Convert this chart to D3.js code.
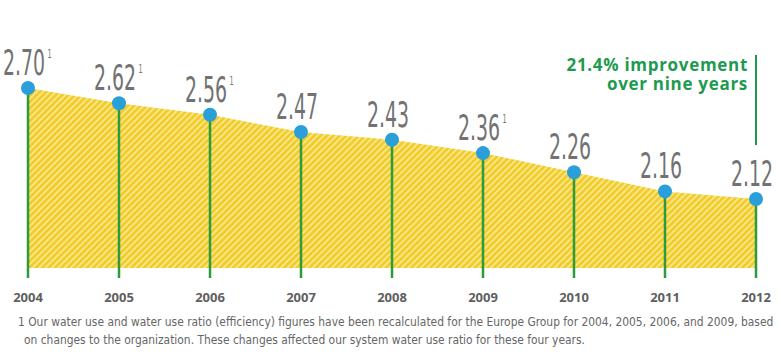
<!DOCTYPE html>
<html><head><meta charset="utf-8">
<script src="https://cdn.jsdelivr.net/npm/d3@7"></script>
<style>body{margin:0;background:#fff}svg{display:block}</style>
</head><body>
<svg id="c" width="779" height="356"></svg>
<script>
const years = ["2004","2005","2006","2007","2008","2009","2010","2011","2012"];
const values = [2.70, 2.62, 2.56, 2.47, 2.43, 2.36, 2.26, 2.16, 2.12];
const labels = ["2.70","2.62","2.56","2.47","2.43","2.36","2.26","2.16","2.12"];
const footnoted = [true, true, true, false, false, true, false, false, false];
const annotation = ["21.4% improvement", "over nine years"];
const footnote = [
  "1 Our water use and water use ratio (efficiency) figures have been recalculated for the Europe Group for 2004, 2005, 2006, and 2009, based",
  "on changes to the organization. These changes affected our system water use ratio for these four years."
];

const svg = d3.select("#c");
const x = d3.scalePoint().domain(years).range([28, 756]);
const y = d3.scaleLinear().domain([1.76, 2.70]).range([268, 88]);

const defs = svg.append("defs");
const pat = defs.append("pattern").attr("id","hatch").attr("patternUnits","userSpaceOnUse")
  .attr("width",4.5).attr("height",4.5).attr("patternTransform","rotate(45)");
pat.append("rect").attr("width",4.5).attr("height",4.5).attr("fill","#f1cc2a");
pat.append("rect").attr("width",1.8).attr("height",4.5).attr("fill","#f8e68a");

const data = years.map((yr,i)=>({yr, v:values[i], l:labels[i], f:footnoted[i]}));

const area = d3.area().x(d=>x(d.yr)).y0(y(1.76)).y1(d=>y(d.v));
svg.append("path").datum(data).attr("d",area).attr("fill","url(#hatch)");

svg.selectAll("line.stem").data(data).join("line").attr("class","stem")
  .attr("x1",d=>x(d.yr)).attr("x2",d=>x(d.yr))
  .attr("y1",d=>y(d.v)).attr("y2",278)
  .attr("stroke","#2f9a3c").attr("stroke-width",2.5);

svg.selectAll("circle").data(data).join("circle")
  .attr("cx",d=>x(d.yr)).attr("cy",d=>y(d.v)).attr("r",7)
  .attr("fill","#2a9fd9");

// value labels (superscript kept inside the same text element)
const vl = svg.selectAll("text.vl").data(data).join("text").attr("class","vl")
  .attr("transform",d=>`translate(${x(d.yr)-25},${y(d.v)-13}) scale(0.6,1)`)
  .attr("font-family","'DejaVu Sans Condensed',sans-serif")
  .attr("font-size",35).attr("fill","#727272");
vl.append("tspan").text(d=>d.l);
vl.filter(d=>d.f).append("tspan").attr("dx",4).attr("dy",-17)
  .attr("font-size",12).text("1");

// year labels
svg.selectAll("text.yr").data(data).join("text").attr("class","yr")
  .attr("x",d=>x(d.yr)).attr("y",302).attr("text-anchor","middle")
  .attr("font-family","'Open Sans',sans-serif").attr("font-weight",700)
  .attr("font-size",13).attr("fill","#5f5f5f").text(d=>d.yr);

// annotation
svg.append("line").attr("x1",x("2012")).attr("x2",x("2012")).attr("y1",55).attr("y2",145)
  .attr("stroke","#1e9a50").attr("stroke-width",2);
const ann = svg.append("text").attr("text-anchor","end")
  .attr("font-family","'Open Sans',sans-serif").attr("font-weight",700)
  .attr("font-size",17).attr("letter-spacing",0.7).attr("fill","#1e9a50");
ann.selectAll("tspan").data(annotation).join("tspan")
  .attr("x",748).attr("y",(d,i)=>71+i*19).text(d=>d);

// footnote
svg.selectAll("text.fn").data(footnote).join("text").attr("class","fn")
  .attr("x",(d,i)=>i===0?18:24).attr("y",(d,i)=>326+i*18)
  .attr("font-family","'DejaVu Sans Condensed',sans-serif")
  .attr("font-size",11.9).attr("fill","#666")
  .text(d=>d);
</script>
</body></html>
